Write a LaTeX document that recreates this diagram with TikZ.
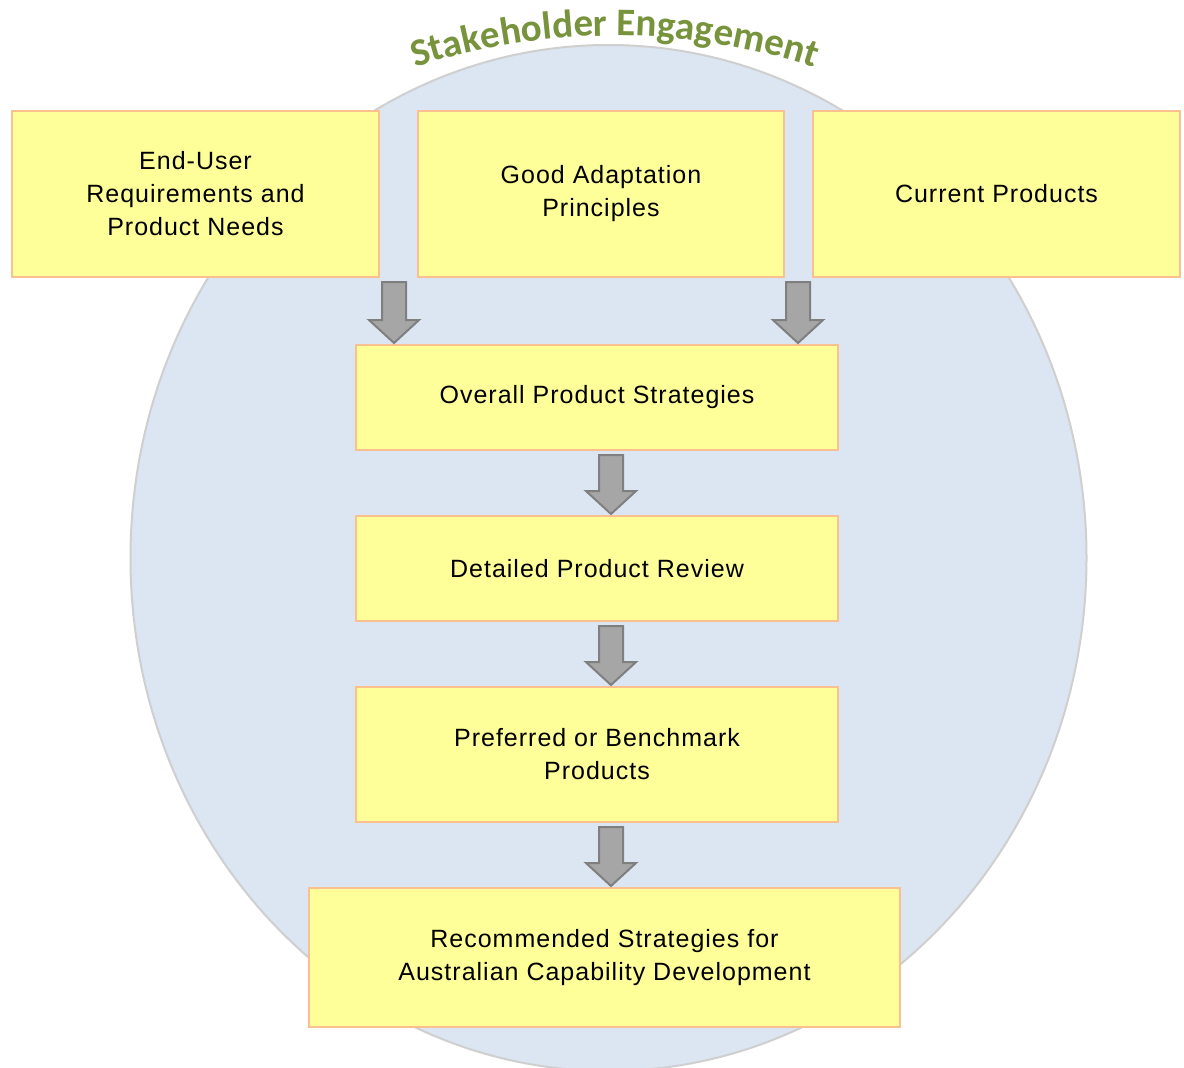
\documentclass[tikz,border=0pt]{standalone}
\usepackage{fontspec}
\setmainfont{Liberation Sans}[LetterSpace=4]
\newfontfamily\titlefam{Carlito}
\usetikzlibrary{calc,decorations.text,shapes.geometric}
\definecolor{boxfill}{HTML}{FFFF99}
\definecolor{boxline}{HTML}{FAC090}
\definecolor{ellfill}{HTML}{DCE6F2}
\definecolor{ellline}{HTML}{CFCFCF}
\definecolor{arrfill}{HTML}{A6A6A6}
\definecolor{arrline}{HTML}{7F7F7F}
\definecolor{tgreen}{HTML}{77933C}
\newcommand\titlestyle{\titlefam\bfseries\fontsize{39}{39}\selectfont\color{tgreen}}
\tikzset{
  box/.style={draw=boxline, fill=boxfill, line width=2pt, inner sep=0pt, anchor=north west,
    align=center, font=\fontsize{25}{33}\selectfont},
  blockarrow/.style={draw=arrline, fill=arrfill, line width=2pt, line join=miter},
  circ/.style={draw=ellline, fill=ellfill, line width=2pt, ellipse, inner sep=0pt}
}
\newcommand\barrow[3]{%
  \path (#1,0 |- #2.south) coordinate (bs) (#1,0 |- #3.north) coordinate (be);
  \draw[blockarrow] ($(bs)+(-12,4)$) -- ($(be)+(-12,-24)$) -- ($(be)+(-25,-24)$) -- ($(be)+(0,-1)$)
    -- ($(be)+(25,-24)$) -- ($(be)+(12,-24)$) -- ($(bs)+(12,4)$) -- cycle;
}
\begin{document}
\begin{tikzpicture}[x=1pt,y=-1pt]
\useasboundingbox (0,0) rectangle (1184,1068);
\fill[white] (0,0) rectangle (1184,1068);
\node[circ, minimum width=956, minimum height=1026] (se) at (608.5,558) {};
\path[decorate, decoration={text along path, text align=center,
  text={|\titlestyle|Stakeholder Engagement}}]
  (380,80) .. controls (531,21) and (699,21) .. (850,80);
\node[box, minimum width=367, minimum height=166] (eu) at (11,110) {End-User\\Requirements and\\Product Needs};
\node[box, minimum width=366, minimum height=166] (ga) at (417,110) {Good Adaptation\\Principles};
\node[box, minimum width=367, minimum height=166] (cp) at (812,110) {Current Products};
\node[box, minimum width=482, minimum height=105] (ov) at (355,344) {Overall Product Strategies};
\node[box, minimum width=482, minimum height=105] (dp) at (355,515) {Detailed Product Review};
\node[box, minimum width=482, minimum height=135] (pb) at (355,686) {Preferred or Benchmark\\Products};
\node[box, minimum width=591, minimum height=139] (rs) at (308,887) {Recommended Strategies for\\Australian Capability Development};
\barrow{394}{eu}{ov}
\barrow{798}{cp}{ov}
\barrow{611}{ov}{dp}
\barrow{611}{dp}{pb}
\barrow{611}{pb}{rs}
\end{tikzpicture}
\end{document}
